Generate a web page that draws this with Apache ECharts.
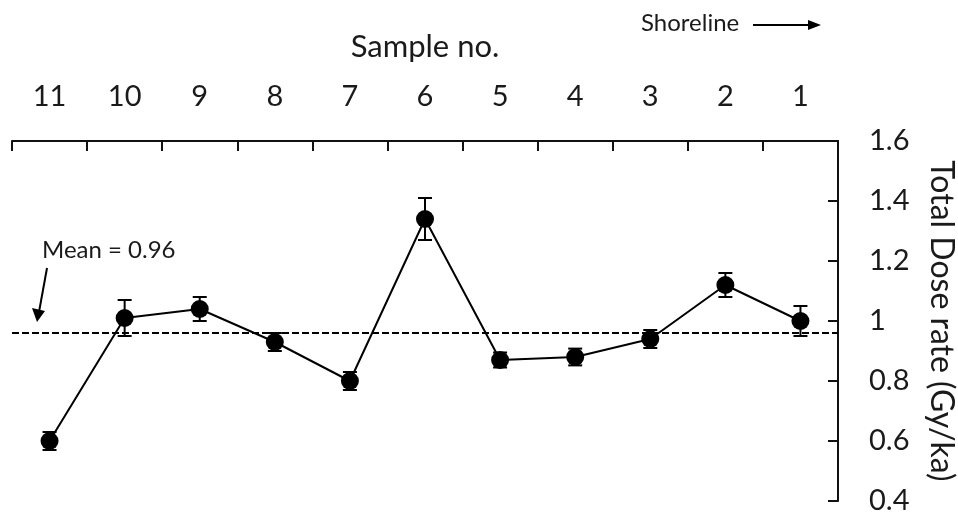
<!DOCTYPE html>
<html>
<head>
<meta charset="utf-8">
<script src="https://cdn.jsdelivr.net/npm/echarts@6/dist/echarts.min.js"></script>
<style>
html,body{margin:0;padding:0;background:#fff;}
#chart{width:958px;height:517px;}
</style>
</head>
<body>
<div id="chart"></div>
<script>
const categories = ['11','10','9','8','7','6','5','4','3','2','1'];
const doseRate = [0.60, 1.01, 1.04, 0.93, 0.80, 1.34, 0.87, 0.88, 0.94, 1.12, 1.00];
const doseError = [0.03, 0.06, 0.04, 0.03, 0.03, 0.07, 0.025, 0.028, 0.03, 0.04, 0.05];
const meanValue = 0.96;
const yTicks = [0.4, 0.6, 0.8, 1.0, 1.2, 1.4, 1.6];

const FONT = 'Lato';
const chart = echarts.init(document.getElementById('chart'), null, {renderer:'canvas'});

const errData = categories.map((c, i) => [i, doseRate[i] - doseError[i], doseRate[i] + doseError[i]]);

chart.setOption({
  animation: false,
  backgroundColor: '#fff',
  textStyle: {fontFamily: FONT, color: '#1a1a1a'},
  grid: {left: 12, right: 120, top: 141, bottom: 16, containLabel: false, outerBoundsMode: 'none'},
  xAxis: {
    type: 'category',
    position: 'top',
    data: categories,
    boundaryGap: true,
    name: 'Sample no.',
    nameLocation: 'middle',
    nameGap: 79,
    nameTextStyle: {fontFamily: FONT, fontSize: 31, color: '#1a1a1a'},
    axisLine: {lineStyle: {color: '#111', width: 2}},
    axisTick: {show: true, inside: true, length: 10, alignWithLabel: false, lineStyle: {color: '#111', width: 2}},
    axisLabel: {margin: 30, fontFamily: FONT, fontSize: 29, color: '#1a1a1a'},
    splitLine: {show: false}
  },
  yAxis: {
    type: 'value',
    position: 'right',
    min: yTicks[0],
    max: yTicks[yTicks.length - 1],
    interval: 0.2,
    name: 'Total Dose rate (Gy/ka)',
    nameLocation: 'middle',
    nameRotate: -90,
    nameGap: 87,
    nameTextStyle: {fontFamily: FONT, fontSize: 32, color: '#1a1a1a'},
    axisLine: {show: true, lineStyle: {color: '#111', width: 2}},
    axisTick: {show: true, inside: true, length: 10, lineStyle: {color: '#111', width: 2}},
    axisLabel: {margin: 31, fontFamily: FONT, fontSize: 29, color: '#1a1a1a',
      formatter: v => String(Math.round(v * 10) / 10)},
    splitLine: {show: false}
  },
  series: [
    {
      type: 'custom',
      name: 'error',
      data: errData,
      z: 3,
      renderItem: function (params, api) {
        const x = api.value(0);
        const lo = api.coord([x, api.value(1)]);
        const hi = api.coord([x, api.value(2)]);
        const hw = 7;
        const style = {stroke: '#000', lineWidth: 2};
        return {
          type: 'group',
          children: [
            {type: 'line', shape: {x1: lo[0], y1: lo[1], x2: hi[0], y2: hi[1]}, style: style},
            {type: 'line', shape: {x1: lo[0] - hw, y1: lo[1], x2: lo[0] + hw, y2: lo[1]}, style: style},
            {type: 'line', shape: {x1: hi[0] - hw, y1: hi[1], x2: hi[0] + hw, y2: hi[1]}, style: style}
          ]
        };
      }
    },
    {
      type: 'line',
      name: 'Total dose rate',
      data: doseRate,
      z: 4,
      symbol: 'circle',
      symbolSize: 18,
      itemStyle: {color: '#000'},
      lineStyle: {color: '#000', width: 2},
      markLine: {
        silent: true,
        symbol: 'none',
        label: {show: false},
        lineStyle: {color: '#000', width: 2, type: [7, 3]},
        data: [{yAxis: meanValue}]
      }
    }
  ],
  graphic: [
    {type: 'text', left: 42, top: 238, style: {text: 'Mean = 0.96', font: '24px Lato', fill: '#1a1a1a'}},
    {type: 'line', shape: {x1: 47, y1: 268, x2: 39, y2: 312}, style: {stroke: '#000', lineWidth: 2}},
    {type: 'polygon', shape: {points: [[32, 308], [45, 311], [37, 322]]}, style: {fill: '#000'}},
    {type: 'text', left: 641, top: 11, style: {text: 'Shoreline', font: '24px Lato', fill: '#1a1a1a'}},
    {type: 'line', shape: {x1: 753, y1: 25, x2: 810, y2: 25}, style: {stroke: '#000', lineWidth: 2}},
    {type: 'polygon', shape: {points: [[808, 20], [821, 25], [808, 30]]}, style: {fill: '#000'}}
  ]
});
</script>
</body>
</html>
